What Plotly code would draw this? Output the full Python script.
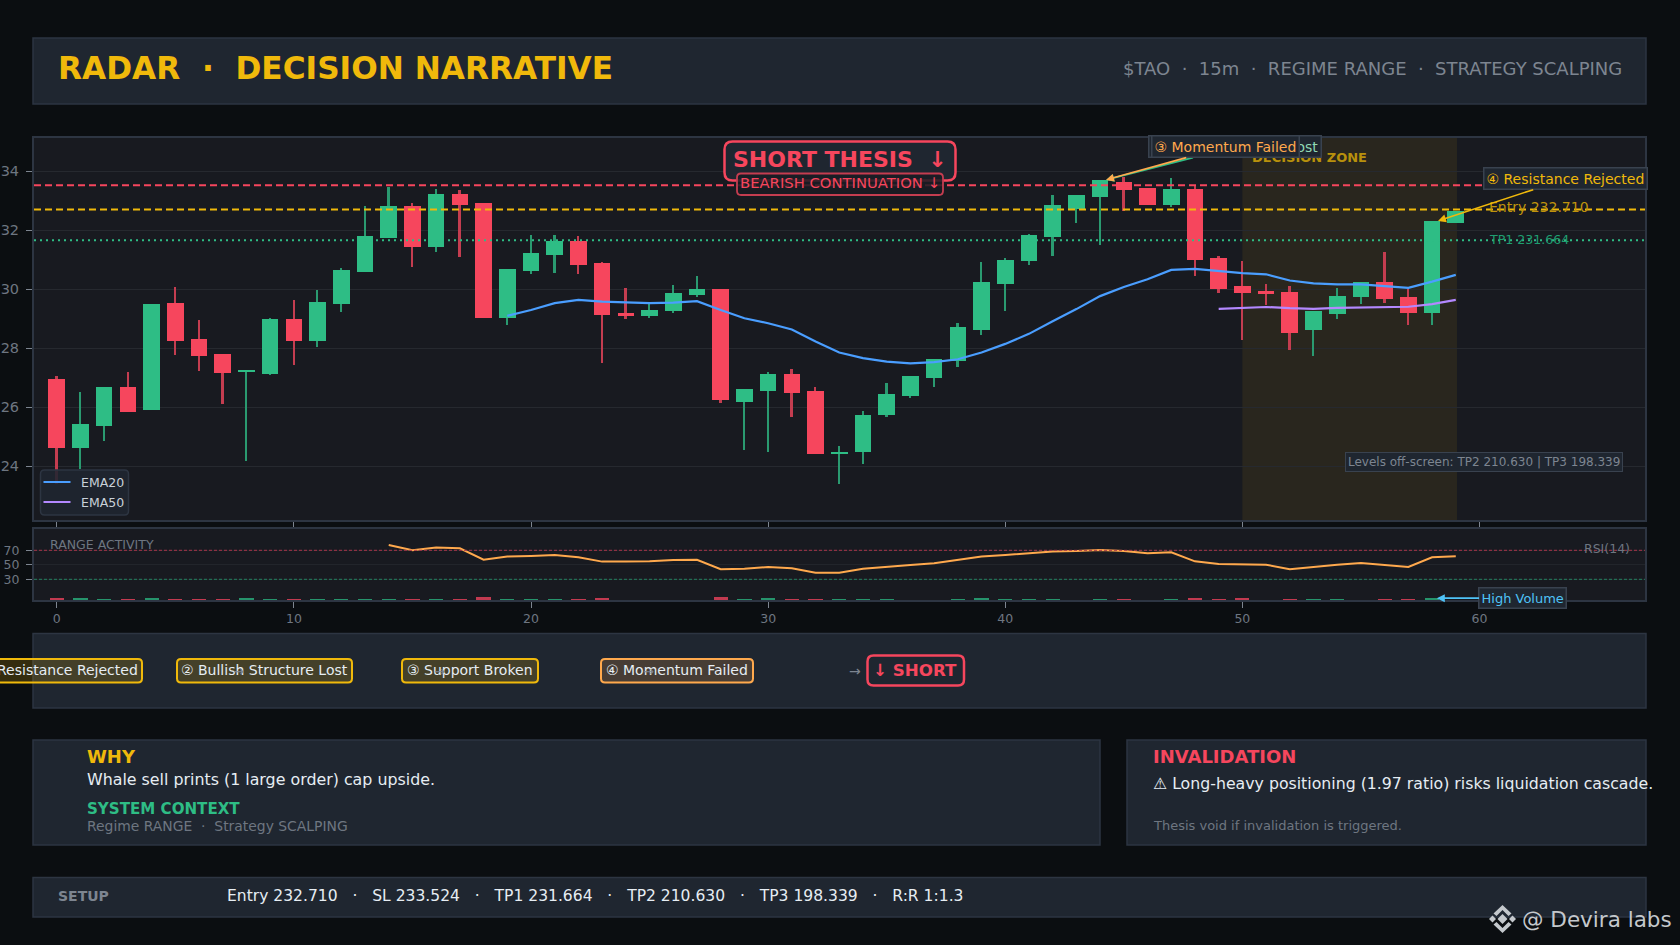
import plotly.graph_objects as go

W, H = 1680, 945

idx = list(range(60))
opens = [226.96, 224.63, 225.38, 226.69, 225.92, 229.54, 228.32, 227.81, 227.20, 227.14,
         228.99, 228.26, 229.51, 230.60, 231.74, 232.82, 231.45, 233.23, 232.93, 229.04,
         230.63, 231.16, 231.64, 230.89, 229.20, 229.11, 229.28, 229.81, 230.01, 226.19,
         226.56, 227.13, 226.55, 224.43, 224.50, 225.74, 226.38, 227.01, 227.58, 228.62,
         230.19, 230.97, 231.77, 232.72, 233.13, 233.64, 233.44, 232.86, 233.40, 231.06,
         230.11, 229.94, 229.91, 228.62, 229.16, 229.74, 230.25, 229.74, 229.20, 232.25]
closes = [224.63, 225.43, 226.69, 225.84, 229.50, 228.26, 227.75, 227.18, 227.25, 228.99,
          228.26, 229.57, 230.66, 231.81, 232.82, 231.45, 233.23, 232.87, 229.04, 230.69,
          231.23, 231.64, 230.84, 229.14, 229.11, 229.30, 229.88, 230.01, 226.26, 226.62,
          227.13, 226.50, 224.43, 224.49, 225.74, 226.45, 227.06, 227.64, 228.72, 230.25,
          231.00, 231.84, 232.86, 233.20, 233.71, 233.37, 232.86, 233.40, 230.99, 230.02,
          229.89, 229.85, 228.53, 229.27, 229.77, 230.25, 229.67, 229.20, 232.32, 232.66]
highs = [227.06, 226.52, 226.69, 227.20, 229.50, 230.08, 228.96, 227.81, 227.25, 229.03,
         229.64, 229.98, 230.72, 232.82, 233.47, 232.93, 233.40, 233.37, 232.93, 230.69,
         231.84, 231.84, 231.81, 230.93, 230.06, 229.54, 230.15, 230.45, 230.01, 226.62,
         227.20, 227.30, 226.69, 224.69, 225.88, 226.82, 227.06, 227.64, 228.86, 230.93,
         231.06, 231.88, 233.20, 233.20, 233.71, 233.82, 233.44, 233.77, 233.54, 231.13,
         230.96, 230.18, 230.11, 229.27, 230.05, 230.25, 231.27, 230.01, 232.32, 232.66]
lows = [223.40, 223.90, 224.87, 225.84, 225.92, 227.77, 227.24, 226.12, 224.19, 227.10,
        227.45, 228.06, 229.24, 230.60, 231.74, 230.77, 231.28, 231.11, 229.04, 228.80,
        230.53, 230.56, 230.53, 227.51, 229.00, 229.04, 229.21, 229.75, 226.16, 224.56,
        224.50, 225.68, 224.43, 223.41, 224.09, 225.68, 226.33, 226.69, 227.38, 228.46,
        229.27, 230.82, 231.13, 232.25, 231.50, 232.66, 232.86, 232.79, 230.45, 229.88,
        228.28, 229.47, 227.94, 227.74, 228.99, 229.50, 229.54, 228.79, 228.79, 232.25]

ema20_x = list(range(19, 60))
ema20 = [229.10, 229.30, 229.53, 229.64, 229.58, 229.55, 229.53, 229.55, 229.60, 229.30,
         229.02, 228.85, 228.64, 228.23, 227.86, 227.67, 227.55, 227.49, 227.53, 227.63,
         227.86, 228.15, 228.49, 228.92, 229.33, 229.77, 230.08, 230.34, 230.66, 230.69,
         230.61, 230.55, 230.51, 230.30, 230.20, 230.17, 230.17, 230.11, 230.05, 230.26, 230.49]
ema50_x = list(range(49, 60))
ema50 = [229.34, 229.37, 229.40, 229.36, 229.34, 229.37, 229.39, 229.41, 229.41, 229.50, 229.64]

rsi_x = list(range(14, 60))
rsi = [77.4, 70.0, 73.7, 72.8, 57.0, 61.3, 62.2, 63.6, 60.3, 54.4, 54.4, 54.8, 56.7, 57.0, 43.8,
       44.7, 47.0, 45.2, 39.2, 39.2, 44.7, 47.5, 49.8, 52.0, 56.7, 61.3, 63.6, 65.9, 68.2, 69.0,
       70.5, 69.0, 65.9, 67.2, 54.8, 51.0, 50.2, 50.2, 43.8, 47.5, 50.2, 52.5, 49.8, 47.0, 60.3, 61.7]
volume = [5.0, 5.0, 3.5, 3.5, 5.0, 3.5, 3.5, 3.5, 5.0, 3.5, 3.5, 3.5, 3.5, 3.5, 3.5,
          3.5, 3.5, 3.5, 6.5, 3.5, 3.5, 3.5, 3.5, 5.0, 0, 0, 0, 0, 6.5, 3.5,
          5.0, 3.5, 3.5, 3.5, 3.5, 3.5, 0, 0, 3.5, 5.0, 3.5, 3.5, 3.5, 0, 3.5,
          3.5, 0, 3.5, 5.0, 3.5, 5.0, 0, 3.5, 3.5, 3.5, 0, 3.5, 3.5, 5.0, 0]

ENTRY, SL, TP1 = 232.710, 233.524, 231.664
price_ticks = [224, 226, 228, 230, 232, 234]
rsi_ticks = [30, 50, 70]
x_ticks = [0, 10, 20, 30, 40, 50, 60]

BG = "#0b0e11"
PANEL = "#1f2630"
EDGE = "#2d3542"
PLOT = "#181a20"
RED = "#f6465d"
GREEN = "#2ebd85"
YELLOW = "#f0b90b"
ORANGE = "#ffa94d"
CYAN = "#4fc3f7"
BLUE = "#4a9eff"
PURPLE = "#b388ff"
MUTED = "#7d8590"
TEXT = "#e6edf3"
FONT = "DejaVu Sans"


def X(px):
    return px / W


def Y(py):
    return 1 - py / H


def rounded(x0, y0, x1, y1, r):
    # rounded box as a paper-coordinate path
    a, b, c, d = X(x0), Y(y0), X(x1), Y(y1)
    rx, ry = r / W, r / H
    return (f"M{a + rx},{b} L{c - rx},{b} Q{c},{b} {c},{b - ry} L{c},{d + ry} Q{c},{d} {c - rx},{d} "
            f"L{a + rx},{d} Q{a},{d} {a},{d + ry} L{a},{b - ry} Q{a},{b} {a + rx},{b} Z")


def box(x0, y0, x1, y1, r=4, fill=PANEL, line=EDGE, lw=2):
    return dict(type="path", path=rounded(x0, y0, x1, y1, r), xref="paper", yref="paper",
                fillcolor=fill, line=dict(color=line, width=lw), layer="above")


def panel(x0, y0, x1, y1):
    return dict(type="rect", x0=X(x0), x1=X(x1), y0=Y(y1), y1=Y(y0), xref="paper", yref="paper",
                fillcolor=PANEL, line=dict(color=EDGE, width=1.5), layer="below")


def note(text, x, y, size, color, anchor="left"):
    return dict(text=text, x=X(x), y=Y(y), xref="paper", yref="paper", showarrow=False,
                xanchor=anchor, yanchor="middle", font=dict(family=FONT, size=size, color=color))


def callout(text, x, y, ax, ay, color, txt=None, size=14, xref="x", yref="y"):
    return dict(text=text, x=x, y=y, xref=xref, yref=yref, ax=ax, ay=ay, axref="pixel", ayref="pixel",
                showarrow=True, arrowhead=2, arrowsize=1, arrowwidth=1.6, arrowcolor=color,
                font=dict(family=FONT, size=size, color=txt or color),
                bgcolor=PANEL, bordercolor="#39424f", borderwidth=1.5, borderpad=2)


candle_col = [GREEN if c >= o else RED for o, c in zip(opens, closes)]
wick_col = ["#2a9a70" if c >= o else "#c43d50" for o, c in zip(opens, closes)]
vol_col = ["#26946c" if c >= o else "#c23a50" for o, c in zip(opens, closes)]

fig = go.Figure()
fig.add_trace(go.Bar(x=idx, y=[h - l for h, l in zip(highs, lows)], base=lows, width=0.075,
                     marker=dict(color=wick_col, line_width=0), showlegend=False))
fig.add_trace(go.Bar(x=idx, y=[abs(c - o) for o, c in zip(opens, closes)],
                     base=[min(o, c) for o, c in zip(opens, closes)], width=0.7,
                     marker=dict(color=candle_col, line_width=0), showlegend=False))
fig.add_trace(go.Scatter(x=ema20_x, y=ema20, mode="lines", name="EMA20", line=dict(color=BLUE, width=2.2)))
fig.add_trace(go.Scatter(x=ema50_x, y=ema50, mode="lines", name="EMA50", line=dict(color=PURPLE, width=2.2)))
fig.add_trace(go.Bar(x=idx, y=volume, width=0.6, xaxis="x2", yaxis="y2",
                     marker=dict(color=vol_col, line_width=0), showlegend=False))
fig.add_trace(go.Scatter(x=rsi_x, y=rsi, mode="lines", xaxis="x2", yaxis="y2", showlegend=False,
                         line=dict(color=ORANGE, width=2)))

shapes = [
    panel(33, 38, 1646, 104),
    panel(33, 633.5, 1646, 708),
    panel(33, 740, 1100, 845),
    panel(1127, 740, 1646, 845),
    panel(33, 877.5, 1646, 917),
    dict(type="rect", x0=50, x1=59.05, xref="x", y0=0, y1=1, yref="y domain",
         fillcolor="rgba(240,185,11,0.08)", line_width=0, layer="below"),
]
for level, col, dash in [(SL, RED, "7px,4px"), (ENTRY, YELLOW, "7px,4px"), (TP1, GREEN, "2px,4px")]:
    shapes.append(dict(type="line", x0=-0.96, x1=66.98, xref="x", y0=level, y1=level, yref="y",
                       line=dict(color=col, width=2, dash=dash)))
for level, col in [(70, "#a8354a"), (30, "#24805f")]:
    shapes.append(dict(type="line", x0=-0.96, x1=66.98, xref="x2", y0=level, y1=level, yref="y2",
                       line=dict(color=col, width=1, dash="3px,2px")))

shapes += [
    box(724.5, 141.5, 955.5, 180.5, r=8, line=RED, lw=2.5),
    box(737, 173.5, 943, 195, r=4, fill="rgba(26,28,35,0.85)", line="#c43d50", lw=1.8),
    box(-24, 659, 142, 682.5, fill="rgba(240,185,11,0.18)", line=YELLOW),
    box(177, 659, 352, 682.5, fill="rgba(240,185,11,0.18)", line=YELLOW),
    box(402, 659, 538, 682.5, fill="rgba(240,185,11,0.18)", line=YELLOW),
    box(601, 659, 753, 682.5, fill="rgba(255,169,77,0.18)", line=ORANGE),
    box(867.5, 655.5, 964, 685.5, r=6, fill=PANEL, line=RED, lw=2.5),
    # legend box and keys
    box(40.5, 470, 128.5, 515, fill="rgba(31,38,48,0.88)", lw=1.5),
]
for ky, col in [(482, BLUE), (502, PURPLE)]:
    shapes.append(dict(type="line", xref="paper", yref="paper", x0=X(43.5), x1=X(70.5), y0=Y(ky), y1=Y(ky),
                       line=dict(color=col, width=2)))

# watermark logo
lx, ly = 1502.5, 919
logo = [(0, 0, 5), (-10, 0, 3.5), (10, 0, 3.5)]
for dx, dy, s in logo:
    shapes.append(dict(type="path", xref="paper", yref="paper", fillcolor="#c4c8cc", line_width=0,
                       path=f"M{X(lx + dx)},{Y(ly + dy - s)} L{X(lx + dx + s)},{Y(ly + dy)} "
                            f"L{X(lx + dx)},{Y(ly + dy + s)} L{X(lx + dx - s)},{Y(ly + dy)} Z"))
for sign in (-1, 1):
    shapes.append(dict(type="path", xref="paper", yref="paper", fillcolor="#c4c8cc", line_width=0,
                       path=f"M{X(lx)},{Y(ly + sign * 14)} L{X(lx + 9)},{Y(ly + sign * 5.5)} "
                            f"L{X(lx + 6)},{Y(ly + sign * 3)} L{X(lx)},{Y(ly + sign * 9)} "
                            f"L{X(lx - 6)},{Y(ly + sign * 3)} L{X(lx - 9)},{Y(ly + sign * 5.5)} Z"))

sp = "\u00a0"
gap = f"{sp}{sp}{sp}·{sp}{sp}{sp}"
notes = [
    note(f"<b>RADAR{sp}{sp}·{sp}{sp}DECISION NARRATIVE</b>", 56, 68, 31.2, YELLOW),
    note(f"$TAO{sp}{sp}·{sp}{sp}15m{sp}{sp}·{sp}{sp}REGIME RANGE{sp}{sp}·{sp}{sp}STRATEGY SCALPING", 1623.5, 69, 18, MUTED, "right"),
    note("<b>DECISION ZONE</b>", 1250, 157.5, 13, "#b8900c"),
    note("Entry 232.710", 1487, 207.5, 14, "#bf930d"),
    note("TP1 231.664", 1487, 239, 12.6, "#1f9e70"),
    callout("② Bullish Structure Lost", 44.25, 233.71, 129, -33, GREEN, "#8fd9b5"),
    callout("③ Momentum Failed", 44.25, 233.71, 119, -33, ORANGE),
    callout("④ Resistance Rejected", 58.25, 232.32, 128, -42, YELLOW, size=14),
    note(f"<b>SHORT THESIS{sp}{sp}↓</b>", 840, 159.5, 22, RED, "center"),
    note("BEARISH CONTINUATION ↓", 840, 183, 14.8, RED, "center"),
    dict(text="Levels off-screen: TP2 210.630 | TP3 198.339", x=X(1484), y=Y(462), xref="paper", yref="paper",
         xanchor="center", yanchor="middle", showarrow=False, font=dict(family=FONT, size=12, color=MUTED),
         bgcolor=PANEL, bordercolor="#39424f", borderwidth=1, borderpad=2),
    note("EMA20", 79, 482, 12.5, "#c9d1d9"),
    note("EMA50", 79, 502, 12.5, "#c9d1d9"),
    note("RANGE ACTIVITY", 47.5, 544, 12.5, "#6e7681"),
    note("RSI(14)", 1632, 548, 12.5, "#6e7681", "right"),
    callout("High Volume", 58.2, 4, 86, 0, CYAN, size=13, xref="x2", yref="y2"),
    note("① Resistance Rejected", 59, 670, 14, TEXT, "center"),
    note("② Bullish Structure Lost", 264.5, 670, 14, TEXT, "center"),
    note("③ Support Broken", 470, 670, 14, TEXT, "center"),
    note("④ Momentum Failed", 677, 670, 14, TEXT, "center"),
    note("→", 238, 671, 13, MUTED, "center"),
    note("→", 439, 671, 13, MUTED, "center"),
    note("→", 648, 671, 13, MUTED, "center"),
    note("→", 855, 671, 14, MUTED, "center"),
    note("<b>↓ SHORT</b>", 915.5, 670, 16.7, RED, "center"),
    note("<b>WHY</b>", 84.5, 756, 18, YELLOW),
    note("Whale sell prints (1 large order) cap upside.", 84.5, 779, 15.85, TEXT),
    note("<b>SYSTEM CONTEXT</b>", 84.5, 809, 15.1, GREEN),
    note(f"Regime RANGE{sp}{sp}·{sp}{sp}Strategy SCALPING", 84.5, 826, 13.9, "#6e7681"),
    note("<b>INVALIDATION</b>", 1151, 756, 18, RED),
    note("⚠ Long-heavy positioning (1.97 ratio) risks liquidation cascade.", 1151, 783, 15.76, TEXT),
    note("Thesis void if invalidation is triggered.", 1151, 825.5, 13, "#6e7681"),
    note("<b>SETUP</b>", 55.5, 896, 14, MUTED),
    note(gap.join(["Entry 232.710", "SL 233.524", "TP1 231.664", "TP2 210.630", "TP3 198.339", "R:R 1:1.3"]),
         224.5, 896, 15.55, TEXT),
    note("@ Devira labs", 1520, 919, 21.5, "#c4c8cc"),
]

axis_common = dict(showline=True, linecolor=EDGE, linewidth=2, mirror=True, zeroline=False,
                   ticks="outside", tickcolor="#7d8590")
dim_font = dict(family=FONT, color="#6e7681")

fig.update_layout(
    width=W, height=H, margin=dict(l=0, r=0, t=0, b=0, autoexpand=False), autosize=False,
    paper_bgcolor=BG, plot_bgcolor=PLOT, barmode="overlay", bargap=0, showlegend=False,
    font=dict(family=FONT, color=MUTED),
    xaxis=dict(domain=[X(34), X(1645)], range=[-0.96, 66.98], anchor="y", tickvals=x_ticks,
               showticklabels=False, ticklen=6, showgrid=False, **axis_common),
    yaxis=dict(domain=[Y(520), Y(138)], range=[222.18, 235.13], anchor="x", tickvals=price_ticks,
               ticklen=6, ticklabelstandoff=4, tickfont=dict(size=14.5, **dim_font), showgrid=True,
               gridcolor="#26292f", gridwidth=1, **axis_common),
    xaxis2=dict(domain=[X(34), X(1645)], range=[-0.96, 66.98], anchor="y2", tickvals=x_ticks,
                ticklen=6, tickfont=dict(size=12.5, **dim_font), showgrid=False, **axis_common),
    yaxis2=dict(domain=[Y(600), Y(528.5)], range=[1.45, 100.07], anchor="x2", tickvals=rsi_ticks,
                ticklen=6, ticklabelstandoff=4, tickfont=dict(size=12.5, **dim_font), showgrid=True,
                gridcolor="#22252b", gridwidth=1, **axis_common),
    shapes=shapes,
    annotations=notes,
)

fig.write_html("out.html", config=dict(displayModeBar=False), post_script="document.body.style.margin='0';")
